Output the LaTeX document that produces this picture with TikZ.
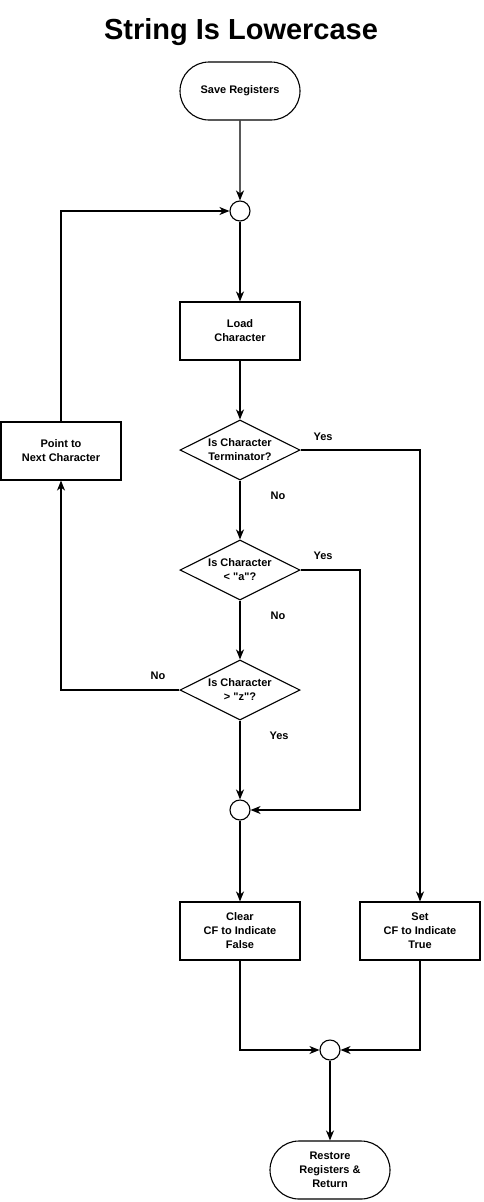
\documentclass[tikz,border=0pt]{standalone}
\usepackage{fontspec}
\setmainfont{Liberation Sans}[Ligatures=TeXOff]
\usetikzlibrary{shapes.geometric,shapes.misc,arrows.meta}
\begin{document}
\begin{tikzpicture}[x=1pt,y=-1pt,
  every node/.style={font=\fontsize{11}{14}\selectfont\bfseries, align=center, line width=1.1pt},
  term/.style={draw, rounded rectangle, minimum width=120pt, minimum height=58pt, inner sep=0pt},
  proc/.style={draw, rectangle, minimum width=120pt, minimum height=58pt, inner sep=0pt},
  dec/.style={draw, diamond, aspect=2, minimum width=120pt, minimum height=60pt, inner sep=0pt},
  junc/.style={draw, circle, minimum size=20pt, inner sep=0pt},
  flow/.style={line width=1.1pt, -{Stealth[length=10pt,width=8pt,inset=3pt]}},
  lbl/.style={font=\fontsize{11}{14}\selectfont\bfseries}
]
\useasboundingbox (0,0) rectangle (483,1202);
\node[font=\fontsize{29}{32}\selectfont\bfseries] (title) at (241,32) {String Is Lowercase};
\node[term] (save) at (240,91) {Save Registers};
\node[junc] (j1) at (240,211) {};
\node[proc] (load) at (240,331) {Load\\Character};
\node[dec] (d1) at (240,450) {Is Character\\Terminator?};
\node[proc] (next) at (61,451) {Point to\\Next Character};
\node[dec] (d2) at (240,570) {Is Character\\< "a"?};
\node[dec] (d3) at (240,690) {Is Character\\> "z"?};
\node[junc] (j2) at (240,810) {};
\node[proc] (clear) at (240,931) {Clear\\CF to Indicate\\False};
\node[proc] (set) at (420,931) {Set\\CF to Indicate\\True};
\node[junc] (j3) at (330,1050) {};
\node[term] (restore) at (330,1170) {Restore\\Registers \&\\Return};

\draw[flow] (save) -- (j1);
\draw[flow] (next.north) |- (j1);
\draw[flow] (j1) -- (load);
\draw[flow] (load) -- (d1);
\draw[flow] (d1.east) -| (set.north);
\draw[flow] (d1) -- (d2);
\draw[flow] (d2.east) -| (360,810) -- (j2);
\draw[flow] (d2) -- (d3);
\draw[flow] (d3.west) -| (next.south);
\draw[flow] (d3) -- (j2);
\draw[flow] (j2) -- (clear);
\draw[flow] (clear.south) |- (j3);
\draw[flow] (set.south) |- (j3);
\draw[flow] (j3) -- (restore);

\node[lbl] (l1) at (323,437) {Yes};
\node[lbl] (l2) at (278,496) {No};
\node[lbl] (l3) at (323,556) {Yes};
\node[lbl] (l4) at (278,616) {No};
\node[lbl] (l5) at (158,676) {No};
\node[lbl] (l6) at (279,736) {Yes};
\end{tikzpicture}
\end{document}
